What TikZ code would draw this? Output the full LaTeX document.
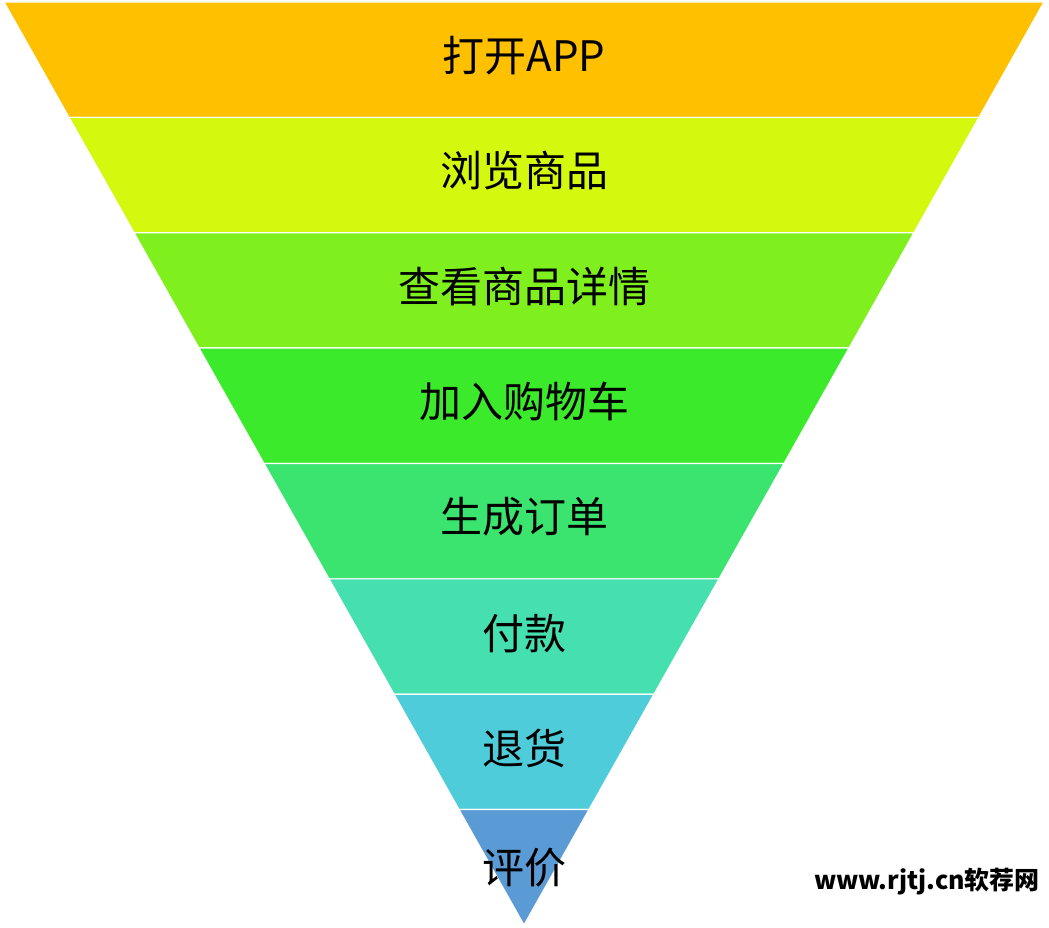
\documentclass[tikz,border=0pt]{standalone}
\usepackage{fontspec}
\newfontfamily\cjk{Noto Sans CJK SC}
\usepackage{tikz}
\usetikzlibrary{positioning,calc}

\definecolor{lvlA}{HTML}{FFC000}
\definecolor{lvlB}{HTML}{D4F80E}
\definecolor{lvlC}{HTML}{7FF01E}
\definecolor{lvlD}{HTML}{3BEA2A}
\definecolor{lvlE}{HTML}{3AE46E}
\definecolor{lvlF}{HTML}{45DFB0}
\definecolor{lvlG}{HTML}{4FCCDA}
\definecolor{lvlH}{HTML}{5B9BD5}

\begin{document}
\begin{tikzpicture}[
  x=1pt, y=1pt,
  band/.style={draw=white, line width=1.2pt, line join=bevel},
  lbl/.style={font=\cjk\fontsize{42}{50}\selectfont, text=black, inner sep=0pt},
  wmark/.style={font=\cjk\bfseries\fontsize{25}{30}\selectfont, text=black, inner sep=0pt},
]
\useasboundingbox (0,0) rectangle (1049,928);

% funnel edges
\coordinate (L0) at (4,926);    \coordinate (R0) at (1044,926);
\coordinate (L1) at (69,810.6); \coordinate (R1) at (979,810.6);
\coordinate (L2) at (134,695.3);\coordinate (R2) at (914,695.3);
\coordinate (L3) at (199,579.9);\coordinate (R3) at (849,579.9);
\coordinate (L4) at (264,464.5);\coordinate (R4) at (784,464.5);
\coordinate (L5) at (329,349.1);\coordinate (R5) at (719,349.1);
\coordinate (L6) at (394,233.8);\coordinate (R6) at (654,233.8);
\coordinate (L7) at (459,118.4);\coordinate (R7) at (589,118.4);
\coordinate (apex) at (524,3);

% bands
\path[band, fill=lvlA] (L0) -- (R0) -- (R1) -- (L1) -- cycle;
\path[band, fill=lvlB] (L1) -- (R1) -- (R2) -- (L2) -- cycle;
\path[band, fill=lvlC] (L2) -- (R2) -- (R3) -- (L3) -- cycle;
\path[band, fill=lvlD] (L3) -- (R3) -- (R4) -- (L4) -- cycle;
\path[band, fill=lvlE] (L4) -- (R4) -- (R5) -- (L5) -- cycle;
\path[band, fill=lvlF] (L5) -- (R5) -- (R6) -- (L6) -- cycle;
\path[band, fill=lvlG] (L6) -- (R6) -- (R7) -- (L7) -- cycle;
\path[band, fill=lvlH] (L7) -- (R7) -- (apex) -- cycle;

% labels, centred in each band
\node[lbl] (open)   at ($(L0)!0.5!(R0)+(0,-54)$) {打开APP};
\node[lbl] (browse) at ($(L1)!0.5!(R1)+(0,-53.5)$) {浏览商品};
\node[lbl] (detail) at ($(L2)!0.5!(R2)+(0,-53.5)$) {查看商品详情};
\node[lbl] (cart)   at ($(L3)!0.5!(R3)+(0,-53.5)$) {加入购物车};
\node[lbl] (order)  at ($(L4)!0.5!(R4)+(0,-53.5)$) {生成订单};
\node[lbl] (pay)    at ($(L5)!0.5!(R5)+(0,-54.5)$) {付款};
\node[lbl] (refund) at ($(L6)!0.5!(R6)+(0,-54.5)$) {退货};
\node[lbl] (review) at ($(L7)!0.5!(R7)+(0,-58)$) {评价};

\node[wmark] (site) at (927,46) {www.rjtj.cn软荐网};
\end{tikzpicture}
\end{document}
